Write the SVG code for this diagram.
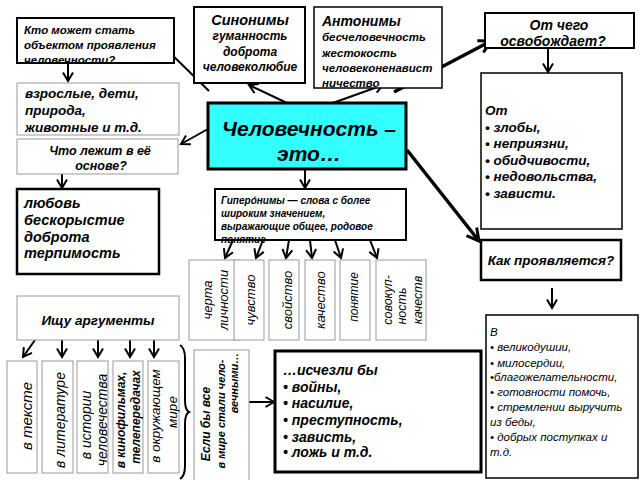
<svg xmlns="http://www.w3.org/2000/svg" width="640" height="480" viewBox="0 0 640 480">
<defs>
<marker id="ah" markerUnits="userSpaceOnUse" viewBox="0 0 12 12" markerWidth="12" markerHeight="12" refX="10" refY="6" orient="auto" overflow="visible"><path d="M1.5,1 L10,6 L1.5,11" fill="none" stroke="#000" stroke-width="2"/></marker>
<marker id="ah2" markerUnits="userSpaceOnUse" viewBox="0 0 16 16" markerWidth="16" markerHeight="16" refX="14" refY="8" orient="auto" overflow="visible"><path d="M2,1.5 L14,8 L2,14.5" fill="none" stroke="#000" stroke-width="3"/></marker>
<style>
text{font-family:"Liberation Sans",Arial,sans-serif;fill:#000}
.bi{font-weight:bold;font-style:italic}
.i{font-style:italic}
.c{text-anchor:middle}
.gb{fill:#fff;stroke:#999;stroke-width:1}
.k2{fill:#fff;stroke:#000;stroke-width:2}
.k15{fill:#fff;stroke:#000;stroke-width:1.5}
.k3{fill:#fff;stroke:#000;stroke-width:3}
.ln{stroke:#000;stroke-width:2;fill:none;marker-end:url(#ah)}
.lt{stroke:#000;stroke-width:3.5;fill:none;marker-end:url(#ah2)}
</style>
</defs>
<rect width="640" height="480" fill="#fff"/>

<g id="connectors">
<line class="ln" x1="209" y1="91" x2="164" y2="47"/>
<line class="ln" x1="287" y1="103" x2="249" y2="85"/>
<line class="ln" x1="330" y1="104" x2="383" y2="85"/>
<line class="lt" x1="394" y1="92" x2="491" y2="41"/>
<line class="lt" x1="407" y1="150" x2="479" y2="241"/>
<line class="ln" x1="208" y1="129" x2="181" y2="144"/>
<line class="ln" x1="68" y1="63" x2="68" y2="81"/>
<line class="ln" x1="62" y1="174" x2="62" y2="188"/>
<line class="ln" x1="305" y1="169" x2="305" y2="188"/>
<line class="ln" x1="548" y1="49" x2="548" y2="72"/>
<line class="ln" x1="552" y1="288" x2="552" y2="308"/>
<line class="ln" x1="233" y1="240" x2="225" y2="258"/>
<line class="ln" x1="263" y1="240" x2="256" y2="258"/>
<line class="ln" x1="289" y1="240" x2="286" y2="258"/>
<line class="ln" x1="310" y1="240" x2="312" y2="258"/>
<line class="ln" x1="335" y1="240" x2="341" y2="258"/>
<line class="ln" x1="370" y1="240" x2="377" y2="258"/>
<line class="ln" x1="35" y1="340" x2="23" y2="357"/>
<line class="ln" x1="62" y1="340" x2="62" y2="357"/>
<line class="ln" x1="98" y1="340" x2="98" y2="357"/>
<line class="ln" x1="130" y1="340" x2="130" y2="357"/>
<line class="ln" x1="154" y1="340" x2="154" y2="357"/>
<line class="ln" x1="249" y1="402" x2="274" y2="402"/>
<path d="M180,345 Q185,348 185,358 L185,400 Q185,410 189,412 Q185,414 185,424 L185,466 Q185,476 180,479" fill="none" stroke="#000" stroke-width="2"/>
</g>

<g id="kto">
<rect class="k2" x="17" y="18" width="157" height="45"/>
<text class="bi" font-size="11.5" x="24" y="34">Кто может стать</text>
<text class="bi" font-size="11.5" x="24" y="49">объектом проявления</text>
<text class="bi" font-size="11.5" x="24" y="64">человечности?</text>
</g>

<g id="vzroslye">
<rect class="gb" x="17" y="83" width="162" height="52"/>
<text class="bi" font-size="13.5" x="25" y="98">взрослые, дети,</text>
<text class="bi" font-size="13.5" x="25" y="115"> природа,</text>
<text class="bi" font-size="13.5" x="25" y="132">животные  и т.д.</text>
</g>

<g id="osnova">
<rect class="gb" x="17" y="139" width="161" height="35"/>
<text class="bi c" font-size="12.5" x="100" y="155">Что лежит в её</text>
<text class="bi c" font-size="12.5" x="101" y="170">основе?</text>
</g>

<g id="sinonimy">
<rect class="k2" x="194" y="7" width="111" height="76"/>
<text class="bi c" font-size="14.5" x="250" y="25">Синонимы</text>
<text class="bi c" font-size="12" x="250" y="40">гуманность</text>
<text class="bi c" font-size="12" x="250" y="56">доброта</text>
<text class="bi c" font-size="12" x="250" y="71">человеколюбие</text>
</g>

<g id="antonimy">
<rect class="k15" x="314" y="7" width="128" height="81"/>
<text class="bi" font-size="14" x="322" y="26">Антонимы</text>
<text class="bi" font-size="11.5" x="322" y="41">бесчеловечность</text>
<text class="bi" font-size="11.5" x="322" y="57">жестокость</text>
<text class="bi" font-size="11.5" x="322" y="72">человеконенавист</text>
<text class="bi" font-size="11.5" x="322" y="87">ничество</text>
</g>

<g id="otchego">
<rect class="k2" x="485" y="13" width="149" height="35"/>
<text class="bi c" font-size="14" x="559" y="30">От чего</text>
<text class="bi c" font-size="14" x="553" y="46">освобождает?</text>
</g>

<g id="ot">
<rect class="k15" x="481" y="73" width="141" height="156"/>
<text class="bi" font-size="13.5" x="485" y="115">От</text>
<text class="bi" font-size="13.5" x="485" y="132">• злобы,</text>
<text class="bi" font-size="13.5" x="485" y="148">• неприязни,</text>
<text class="bi" font-size="13.5" x="485" y="165">• обидчивости,</text>
<text class="bi" font-size="13.5" x="485" y="181">• недовольства,</text>
<text class="bi" font-size="13.5" x="485" y="198">• зависти.</text>
</g>

<g id="center">
<rect x="208" y="103" width="198" height="66" fill="#33ffff" stroke="#000" stroke-width="3"/>
<text class="bi c" font-size="21" x="309" y="136">Человечность –</text>
<text class="bi c" font-size="21" x="309" y="161">это…</text>
</g>

<g id="giperonimy">
<rect class="k2" x="215" y="189" width="191" height="51"/>
<text class="bi" font-size="10" x="221" y="204">Гиперо́нимы — слова с более</text>
<text class="bi" font-size="10" x="221" y="217">широким значением,</text>
<text class="bi" font-size="10" x="221" y="230">выражающие общее, родовое</text>
<text class="bi" font-size="10" x="221" y="243">понятие</text>
</g>

<g id="lyubov">
<rect x="17" y="189" width="142" height="85" fill="#fff" stroke="#000" stroke-width="2.5"/>
<text class="bi" font-size="14.5" x="24" y="208">любовь</text>
<text class="bi" font-size="14.5" x="24" y="225">бескорыстие</text>
<text class="bi" font-size="14.5" x="24" y="242">доброта</text>
<text class="bi" font-size="14.5" x="24" y="258">терпимость</text>
</g>

<g id="cherta">
<rect class="gb" x="189" y="260" width="50" height="80"/>
<text class="i c" font-size="13" transform="translate(212,300) rotate(-90)">черта</text>
<text class="i c" font-size="13" transform="translate(228,300) rotate(-90)">личности</text>
</g>
<g id="chuvstvo">
<rect class="gb" x="234" y="260" width="30" height="80"/>
<text class="i c" font-size="13" transform="translate(255,300) rotate(-90)">чувство</text>
</g>
<g id="svoystvo">
<rect class="gb" x="269" y="260" width="30" height="80"/>
<text class="i c" font-size="13" transform="translate(292,300) rotate(-90)">свойство</text>
</g>
<g id="kachestvo">
<rect class="gb" x="305" y="260" width="30" height="80"/>
<text class="i c" font-size="13" transform="translate(325,300) rotate(-90)">качество</text>
</g>
<g id="ponyatie">
<rect class="gb" x="340" y="260" width="30" height="80"/>
<text class="i c" font-size="12" transform="translate(358,297) rotate(-90)">понятие</text>
</g>
<g id="sovokupnost">
<rect class="gb" x="376" y="260" width="50" height="80"/>
<text class="i c" font-size="12.5" transform="translate(392,300) rotate(-90)">совокуп-</text>
<text class="i c" font-size="12.5" transform="translate(406,306) rotate(-90)">ность</text>
<text class="i c" font-size="12.5" transform="translate(422,300) rotate(-90)">качеств</text>
</g>

<g id="ishchu">
<rect class="gb" x="17" y="296" width="162" height="44"/>
<text class="bi c" font-size="13.5" x="98" y="325">Ищу аргументы</text>
</g>

<g id="vtekste">
<rect class="gb" x="7" y="361" width="30" height="112"/>
<text class="i c" font-size="15" transform="translate(32,416) rotate(-90)">в тексте</text>
</g>
<g id="vliterature">
<rect class="gb" x="42" y="361" width="31" height="112"/>
<text class="i c" font-size="14" transform="translate(65,420) rotate(-90)">в  литературе</text>
</g>
<g id="vistorii">
<rect class="gb" x="77" y="361" width="31" height="112"/>
<text class="i c" font-size="14" transform="translate(91,425) rotate(-90)">в истории</text>
<text class="i c" font-size="14" transform="translate(107,420) rotate(-90)">человечества</text>
</g>
<g id="vkino">
<rect class="gb" x="113" y="361" width="30" height="112"/>
<text class="bi c" font-size="12" transform="translate(125,420) rotate(-90)">в кинофильмах,</text>
<text class="bi c" font-size="12" transform="translate(140,417) rotate(-90)">телепередачах</text>
</g>
<g id="vmire">
<rect class="gb" x="148" y="361" width="31" height="112"/>
<text class="i c" font-size="13.5" transform="translate(160,416) rotate(-90)">в окружающем</text>
<text class="i c" font-size="13.5" transform="translate(177,412) rotate(-90)">мире</text>
</g>

<g id="esli">
<rect class="gb" x="194" y="350" width="55" height="135"/>
<text class="bi c" font-size="12" transform="translate(210,424) rotate(-90)">Если  бы все</text>
<text class="bi c" font-size="11" transform="translate(225,414) rotate(-90)">в мире стали чело-</text>
<text class="bi c" font-size="11" transform="translate(238,383) rotate(-90)">вечными…</text>
</g>

<g id="ischezli">
<rect class="k3" x="275" y="351" width="206" height="121"/>
<text class="bi" font-size="14" x="283" y="375">…исчезли бы</text>
<text class="bi" font-size="14" x="283" y="392">• войны,</text>
<text class="bi" font-size="14" x="283" y="408">• насилие,</text>
<text class="bi" font-size="14" x="283" y="425">• преступность,</text>
<text class="bi" font-size="14" x="283" y="442">• зависть,</text>
<text class="bi" font-size="14" x="283" y="457">• ложь и т.д.</text>
</g>

<g id="kak">
<rect x="481" y="240" width="140" height="40" fill="#fff" stroke="#000" stroke-width="2.5"/>
<text class="bi c" font-size="13.5" x="551" y="265">Как проявляется?</text>
</g>

<g id="v">
<rect class="k15" x="486" y="315" width="152" height="163"/>
<text class="i" font-size="11.5" x="490" y="336">В</text>
<text class="i" font-size="11.5" x="490" y="351">• великодушии,</text>
<text class="i" font-size="11.5" x="490" y="367">• милосердии,</text>
<text class="i" font-size="11.5" x="490" y="381">•благожелательности,</text>
<text class="i" font-size="11.5" x="490" y="396">• готовности помочь,</text>
<text class="i" font-size="11.5" x="490" y="411">• стремлении выручить</text>
<text class="i" font-size="11.5" x="490" y="426">из беды,</text>
<text class="i" font-size="11.5" x="490" y="441">•  добрых поступках и</text>
<text class="i" font-size="11.5" x="490" y="456">т.д.</text>
</g>
</svg>
